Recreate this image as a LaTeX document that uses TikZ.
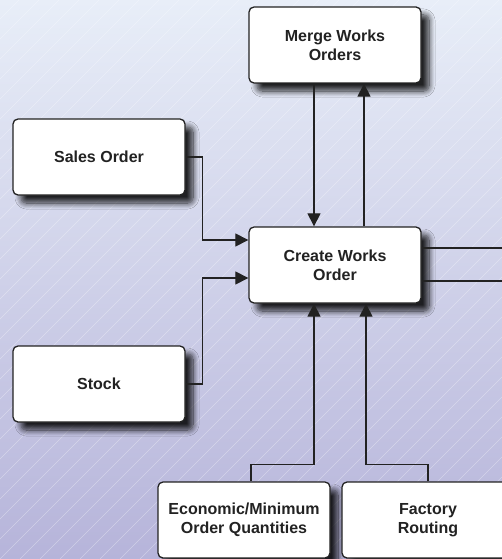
\documentclass[tikz,border=0pt]{standalone}
\usepackage{fontspec}
\setmainfont{Liberation Sans}
\usetikzlibrary{arrows.meta,shadows.blur,positioning}

\definecolor{bgtop}{HTML}{E8EEF8}
\definecolor{bgbottom}{HTML}{B6B4DA}
\definecolor{ink}{HTML}{222222}

\tikzset{
  proc/.style={draw=ink, line width=1.3pt, rounded corners=5pt, fill=white,
    minimum width=172pt, minimum height=76pt, align=center, text=ink,
    font=\bfseries\fontsize{16}{19}\selectfont,
    blur shadow={shadow xshift=8pt, shadow yshift=-8pt, shadow blur radius=6pt,
      shadow opacity=85, shadow blur steps=10}},
  flow/.style={draw=ink, line width=1.1pt, -{Triangle[length=13pt,width=13pt]}},
  feed/.style={draw=ink, line width=1.1pt},
  hatch/.style={white, opacity=0.35, line width=0.4pt},
}

\begin{document}
\begin{tikzpicture}[x=1pt,y=-1pt]
    \useasboundingbox (0,0) rectangle (502,559);
    \clip (0,0) rectangle (502,559);
    % background
    \shade[top color=bgtop, bottom color=bgbottom] (0,0) rectangle (502,559);
    \foreach \i in {-560,-540,...,500}
        \draw[hatch] (\i,559) -- ++(559,-559);
    % boxes
    \node[proc] (merge)   at (335, 45)  {Merge Works\\Orders};
    \node[proc] (sales)   at (99, 157)  {Sales Order};
    \node[proc] (create)  at (335, 265) {Create Works\\Order};
    \node[proc] (stock)   at (99, 384)  {Stock};
    \node[proc] (econ)    at (244, 520) {Economic/Minimum\\Order Quantities};
    \node[proc] (factory) at (428, 520) {Factory\\Routing};
    \coordinate (outA) at (502, 248);
    \coordinate (outB) at (502, 281);
    % connectors
    \draw[flow] ([xshift=-21pt]merge.south) -- ([xshift=-21pt]create.north);  % merge - create
    \draw[flow] ([xshift=29pt]create.north) -- ([xshift=29pt]merge.south);    % create - merge
    \draw[flow] (sales.east) -- ++(17,0) |- ([yshift=25pt]create.west);       % sales - create
    \draw[flow] (stock.east) -- ++(17,0) |- ([yshift=-13pt]create.west);      % stock - create
    \draw[feed] ([yshift=17pt]create.east) -- (outA);
    \draw[feed] ([yshift=-16pt]create.east) -- (outB);
    \draw[flow] ([xshift=7pt]econ.north) -- ++(0,-17) -| ([xshift=-21pt]create.south);  % econ - create
    \draw[flow] (factory.north) -- ++(0,-17) -| ([xshift=31pt]create.south);            % factory - create
\end{tikzpicture}
\end{document}
